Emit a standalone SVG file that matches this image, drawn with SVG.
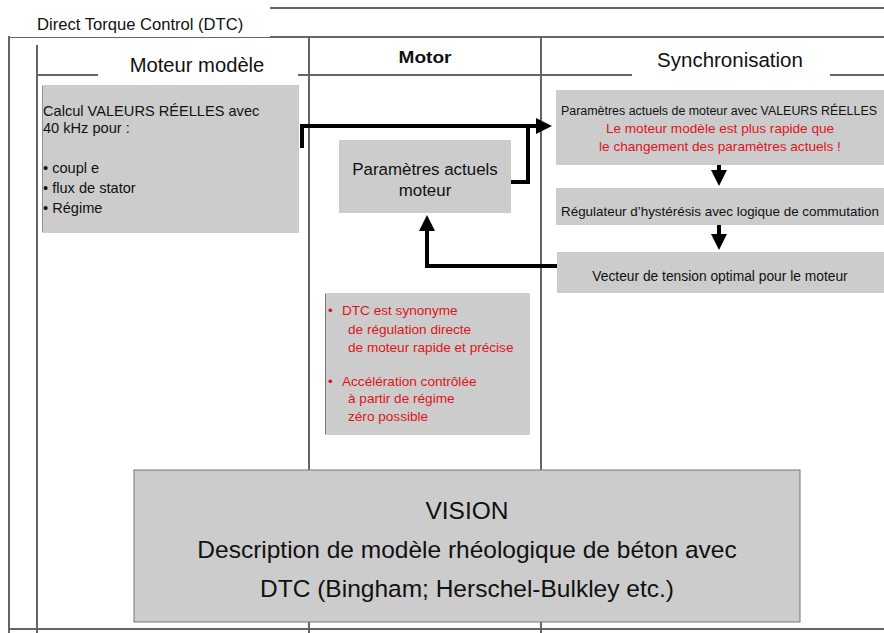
<svg xmlns="http://www.w3.org/2000/svg" width="884" height="633" viewBox="0 0 884 633">
<style>
.t{font-family:"Liberation Sans",Arial,sans-serif;fill:#111}
.r{font-family:"Liberation Sans",Arial,sans-serif;fill:#e0141a}
.box{fill:#cccccc}
.frame{stroke:#666;stroke-width:2;fill:none}
.conn{stroke:#000;stroke-width:4;fill:none}
</style>
<defs>
<marker id="ah" markerWidth="4" markerHeight="4" refX="2.5" refY="2" orient="auto" markerUnits="strokeWidth">
<path d="M0,0 L4,2 L0,4 z" fill="#000"/>
</marker>
</defs>
<rect width="884" height="633" fill="#fff"/>
<g id="frame">
<line class="frame" x1="270" y1="8" x2="884" y2="8" stroke-width="1"/>
<line class="frame" x1="8" y1="37" x2="884" y2="37"/>
<line class="frame" x1="37" y1="75" x2="884" y2="75"/>
<line class="frame" x1="9" y1="37" x2="9" y2="633" stroke-width="1.5"/>
<line class="frame" x1="37" y1="45" x2="37" y2="633"/>
<line class="frame" x1="309" y1="37" x2="309" y2="633"/>
<line class="frame" x1="541" y1="37" x2="541" y2="633"/>
<line class="frame" x1="8" y1="629" x2="884" y2="629"/>
</g>
<g id="title">
<rect x="10" y="9" width="260" height="28" fill="#fff"/>
<text class="t" x="37" y="30" font-size="16.6">Direct Torque Control (DTC)</text>
</g>
<g id="hdr-moteur-modele">
<rect x="98" y="45" width="200" height="34" fill="#fff"/>
<text class="t" x="197" y="72" font-size="20.2" text-anchor="middle">Moteur modèle</text>
</g>
<g id="hdr-motor">
<text class="t" x="425" y="63" font-size="17" font-weight="bold" text-anchor="middle" fill="#333" textLength="53" lengthAdjust="spacingAndGlyphs">Motor</text>
</g>
<g id="hdr-sync">
<rect x="632" y="42" width="198" height="36" fill="#fff"/>
<text class="t" x="730" y="67" font-size="20.5" text-anchor="middle">Synchronisation</text>
</g>
<g id="calcul">
<rect class="box" x="42" y="85" width="257" height="148"/>
<line x1="42.5" y1="86" x2="42.5" y2="232" stroke="#8a9096" stroke-width="1"/>
<text class="t" font-size="14.6"><tspan x="43" y="116">Calcul VALEURS RÉELLES avec</tspan><tspan x="43" y="133">40 kHz pour :</tspan><tspan x="43" y="173">• coupl e</tspan><tspan x="43" y="193">• flux de stator</tspan><tspan x="43" y="213">• Régime</tspan></text>
</g>
<g id="params-moteur">
<rect class="box" x="339" y="140" width="172" height="73"/>
<text class="t" font-size="16.9" text-anchor="middle"><tspan x="425" y="175">Paramètres actuels</tspan><tspan x="425" y="196">moteur</tspan></text>
</g>
<g id="params-valeurs">
<rect class="box" x="556" y="90" width="328" height="75"/>
<text class="t" x="719" y="115" font-size="12.5" text-anchor="middle" textLength="316" lengthAdjust="spacingAndGlyphs">Paramètres actuels de moteur avec VALEURS RÉELLES</text>
<text class="r" font-size="13.6" text-anchor="middle"><tspan x="720" y="133">Le moteur modèle est plus rapide que</tspan><tspan x="720" y="151">le changement des paramètres actuels !</tspan></text>
</g>
<g id="regulateur">
<rect class="box" x="556" y="188" width="328" height="37"/>
<text class="t" x="720" y="216" font-size="13" text-anchor="middle" textLength="318" lengthAdjust="spacingAndGlyphs">Régulateur d’hystérésis avec logique de commutation</text>
</g>
<g id="vecteur">
<rect class="box" x="557" y="252" width="327" height="41"/>
<text class="t" x="720" y="281" font-size="13.8" text-anchor="middle">Vecteur de tension optimal pour le moteur</text>
</g>
<g id="notes">
<rect class="box" x="325" y="293" width="205" height="142"/>
<line x1="325.5" y1="294" x2="325.5" y2="434" stroke="#777" stroke-width="1"/>
<text class="r" font-size="13.6"><tspan x="328" y="315">•</tspan><tspan x="342" y="315">DTC est synonyme</tspan><tspan x="348" y="334">de régulation directe</tspan><tspan x="348" y="352">de moteur rapide et précise</tspan><tspan x="328" y="386">•</tspan><tspan x="342" y="386">Accélération contrôlée</tspan><tspan x="348" y="403">à partir de régime</tspan><tspan x="348" y="421">zéro possible</tspan></text>
</g>
<g id="vision">
<rect class="box" x="134" y="470" width="666" height="152" stroke="#777" stroke-width="1"/>
<text class="t" font-size="24.5" text-anchor="middle"><tspan x="467" y="519">VISION</tspan><tspan x="467" y="558">Description de modèle rhéologique de béton avec</tspan><tspan x="467" y="597">DTC (Bingham; Herschel-Bulkley etc.)</tspan></text>
</g>
<g id="connectors">
<path class="conn" d="M302,148 V126 H546" marker-end="url(#ah)"/>
<path class="conn" d="M511,182 H528 V126"/>
<path class="conn" d="M719,165 V180" marker-end="url(#ah)"/>
<path class="conn" d="M719,225 V244" marker-end="url(#ah)"/>
<path class="conn" d="M557,266 H427 V221" marker-end="url(#ah)"/>
</g>
</svg>
